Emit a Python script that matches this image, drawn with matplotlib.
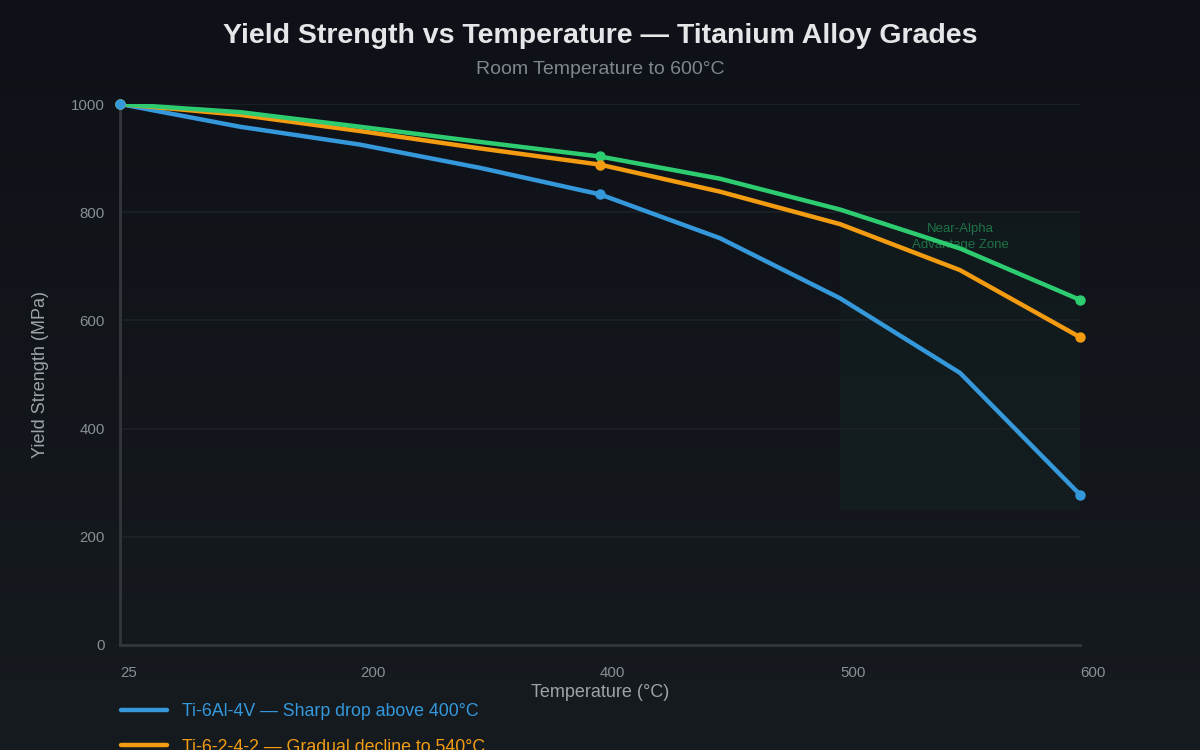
import numpy as np
import matplotlib
matplotlib.use("Agg")
import matplotlib.pyplot as plt
from matplotlib.colors import LinearSegmentedColormap

plt.rcParams["font.family"] = ["Liberation Sans", "DejaVu Sans"]

temps = ["25", "100", "200", "300", "400", "450", "500", "550", "600"]
ti64 = [1000, 958, 925, 882, 833, 752, 641, 503, 278]
ti6242 = [1000, 980, 950, 918, 888, 838, 778, 693, 569]
ti1100 = [1000, 985, 958, 930, 903, 862, 805, 733, 638]

series = [
    ("Ti-6Al-4V — Sharp drop above 400°C", ti64, "#3498db"),
    ("Ti-6-2-4-2 — Gradual decline to 540°C", ti6242, "#f39c12"),
    ("Ti-1100 — Best retention at 600°C", ti1100, "#2ecc71"),
]
marker_idx = [0, 4, 8]
shown_ticks = [0, 2, 4, 6, 8]
zone_x = [6, 8]
zone_y = [250, 800]

fig = plt.figure(figsize=(12, 7.5), dpi=100)

# background gradient
bg = fig.add_axes([0, 0, 1, 1], zorder=-10)
cmap = LinearSegmentedColormap.from_list("bg", ["#0e1117", "#161b20"])
bg.imshow(np.linspace(0, 1, 256).reshape(-1, 1), aspect="auto", cmap=cmap,
          extent=[0, 1, 0, 1], origin="upper")
bg.axis("off")

ax = fig.add_axes([0.1, 0.14, 0.8, 0.7213])
ax.set_facecolor("none")
x = np.arange(len(temps))

ax.fill_between(zone_x, zone_y[0], zone_y[1], color="#2ecc71", alpha=0.03,
                linewidth=0, zorder=1)
ax.text(7, 754, "Near-Alpha\nAdvantage Zone", ha="center", va="center",
        fontsize=9.5, color="#2ecc71", alpha=0.5, linespacing=1.45, zorder=2)

for i, (label, vals, color) in enumerate(series):
    ax.plot(x, vals, color=color, linewidth=3.2, label=label, zorder=3 + i,
            solid_capstyle="round", solid_joinstyle="round")
for label, vals, color in reversed(series):
    ax.plot(x[marker_idx], np.array(vals)[marker_idx], "o", color=color,
            markersize=6.5, zorder=7, clip_on=False)

ax.set_xlim(0, len(temps) - 1)
ax.set_ylim(0, 1000)
ax.set_xticks(shown_ticks)
ax.set_xticklabels([temps[i] for i in shown_ticks], ha="left")
ax.set_yticks(range(0, 1001, 200))
ax.tick_params(axis="both", length=0, colors="#8a8f95", labelsize=10.8)
ax.tick_params(axis="x", pad=15)
ax.tick_params(axis="y", pad=11)

ax.yaxis.grid(True, color="#1d2227", linewidth=1.2)
ax.xaxis.grid(False)
for side in ["top", "right"]:
    ax.spines[side].set_visible(False)
for side in ["left", "bottom"]:
    ax.spines[side].set_color("#33373c")
    ax.spines[side].set_linewidth(2)

ax.set_xlabel("Temperature (°C)", fontsize=13, color="#9ea3a8")
ax.xaxis.set_label_coords(0.5, -0.072)
ax.set_ylabel("Yield Strength (MPa)", fontsize=13, color="#9ea3a8")
ax.yaxis.set_label_coords(-0.074, 0.5)

fig.text(0.5, 1 - 36 / 750, "Yield Strength vs Temperature — Titanium Alloy Grades",
         ha="center", va="center", fontsize=20.5, fontweight="bold", color="#e4e6e8")
fig.text(0.5, 1 - 69 / 750, "Room Temperature to 600°C", ha="center", va="center",
         fontsize=14, color="#80868d")

fig.legend(loc="upper left", bbox_to_anchor=(121 / 1200, 1 - 703 / 750),
           frameon=False, fontsize=12.8, handlelength=2.6, handletextpad=0.85,
           labelspacing=1.05, borderpad=0, borderaxespad=0, labelcolor="linecolor")

fig.savefig("out.png", dpi=100)
